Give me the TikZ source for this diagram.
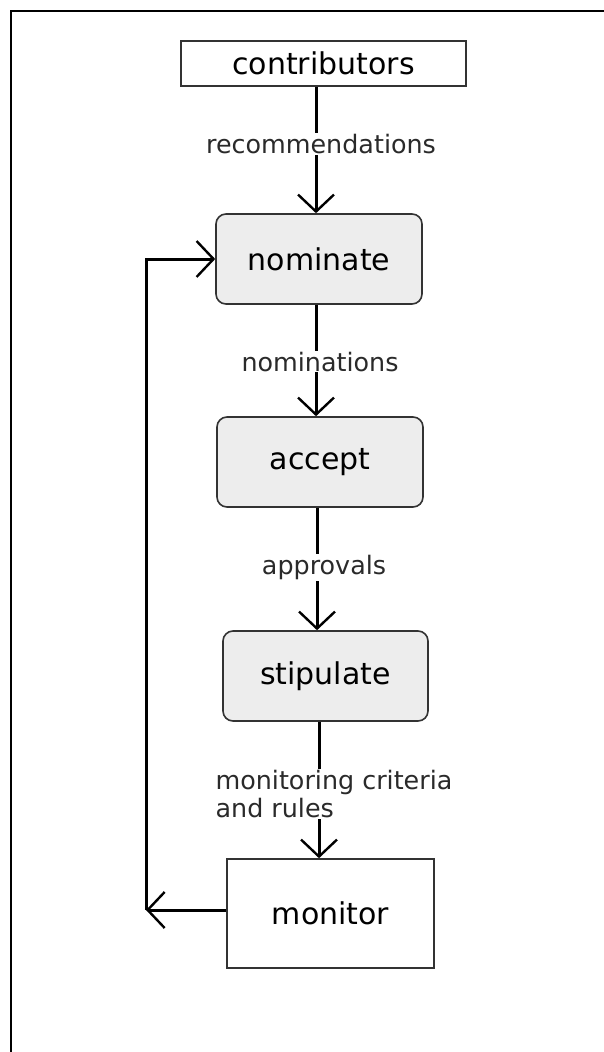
\documentclass[tikz,border=0pt]{standalone}
\usepackage{fontspec}
\setmainfont{DejaVu Sans}
\usetikzlibrary{arrows.meta}
\definecolor{boxfill}{HTML}{EDEDED}
\definecolor{boxline}{HTML}{333333}
\definecolor{labeltext}{HTML}{2A2A2A}
\begin{document}
\begin{tikzpicture}[x=1pt,y=-1pt,
  plainbox/.style={draw=boxline, line width=1.6pt, fill=white, inner sep=0pt,
    font=\fontsize{30}{34}\selectfont},
  stagebox/.style={draw=boxline, line width=1.6pt, fill=boxfill, rounded corners=10pt,
    minimum width=206pt, minimum height=90pt, inner sep=0pt,
    font=\fontsize{30}{34}\selectfont},
  flow/.style={line width=3pt, -{Straight Barb[length=17pt,width=36pt,line width=2.4pt]}},
  flowlabel/.style={fill=white, inner sep=1pt, text=labeltext,
    font=\fontsize{25.4}{28}\selectfont}
]
\useasboundingbox (0,0) rectangle (604,1052);
% page frame
\draw[line width=2.6pt] (604,11) -- (11,11) -- (11,1052);

% stages
\node[plainbox, minimum width=285pt, minimum height=45pt] (contributors) at (323.5,63.5) {contributors};
\node[stagebox] (nominate) at (319,259) {nominate};
\node[stagebox] (accept) at (320,462) {accept};
\node[stagebox, minimum width=205pt] (stipulate) at (325.5,676) {stipulate};
\node[plainbox, minimum width=207pt, minimum height=109pt] (monitor) at (330.5,913.5) {monitor};

% columns of the vertical flows
\coordinate (c1) at (316,0);
\coordinate (c2) at (316,0);
\coordinate (c3) at (317,0);
\coordinate (c4) at (319,0);
\coordinate (fb) at (146,910);

\draw[flow] (contributors.south -| c1) -- node[flowlabel, pos=0.45, xshift=5pt] {recommendations} (nominate.north -| c1);
\draw[flow] (nominate.south -| c2) -- node[flowlabel, pos=0.51, xshift=4pt] {nominations} (accept.north -| c2);
\draw[flow] (accept.south -| c3) -- node[flowlabel, pos=0.49, xshift=7pt] {approvals} (stipulate.north -| c3);
\draw[flow] (stipulate.south -| c4) -- node[flowlabel, pos=0.53, xshift=15pt, align=left] {monitoring criteria\\and rules} (monitor.north -| c4);

% feedback loop
\draw[flow] (monitor.west |- fb) -- (fb);
\draw[flow] (fb) |- (nominate.west);
\end{tikzpicture}
\end{document}
